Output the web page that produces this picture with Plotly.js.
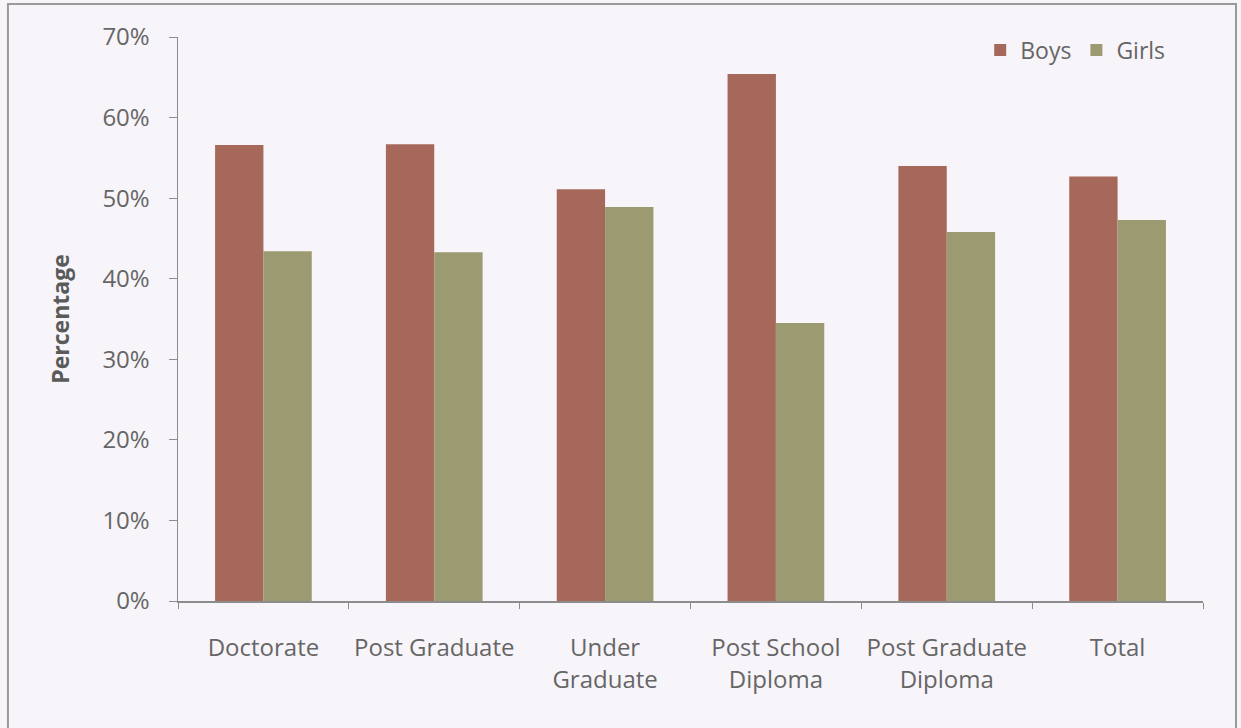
<!DOCTYPE html>
<html>
<head>
<meta charset="utf-8">
<script src="https://cdn.plot.ly/plotly-3.0.1.min.js"></script>
<style>
  html, body { margin: 0; padding: 0; background: #f8f5fa; }
  #chart { width: 1241px; height: 728px; }
</style>
</head>
<body>
<div id="chart"></div>
<script>
const categories = ["Doctorate", "Post Graduate", "Under<br>Graduate", "Post School<br>Diploma", "Post Graduate<br>Diploma", "Total"];
const boys = [56.6, 56.7, 51.1, 65.4, 54.0, 52.7];
const girls = [43.4, 43.3, 48.9, 34.5, 45.8, 47.3];
const yTicks = [0, 10, 20, 30, 40, 50, 60, 70];
const yTickLabels = ["0%", "10%", "20%", "30%", "40%", "50%", "60%", "70%"];

const textColor = "#666666";
const axisColor = "#8c8c8c";

const traces = [
  { type: "bar", name: "Boys", x: categories, y: boys, marker: { color: "#a6685b" }, hoverinfo: "x+y+name" },
  { type: "bar", name: "Girls", x: categories, y: girls, marker: { color: "#9c9a70" }, hoverinfo: "x+y+name" }
];

const layout = {
  width: 1241,
  height: 728,
  paper_bgcolor: "#f8f5fa",
  plot_bgcolor: "#f8f5fa",
  font: { family: "Open Sans, sans-serif", size: 24, color: textColor },
  margin: { l: 178, r: 38, t: 37, b: 127 },
  barmode: "group",
  bargap: 0.434,
  bargroupgap: 0,
  showlegend: true,
  legend: {
    orientation: "h",
    x: 0.968, xanchor: "right",
    y: 0.977, yanchor: "middle",
    bgcolor: "rgba(0,0,0,0)",
    font: { size: 23, color: textColor },
    itemwidth: 30,
    tracegroupgap: 0
  },
  xaxis: {
    showline: true, linecolor: axisColor, linewidth: 1.5,
    ticks: "outside", tickson: "boundaries", ticklen: 6, tickcolor: axisColor,
    ticklabelstandoff: 25,
    tickfont: { size: 24, color: textColor },
    showgrid: false, zeroline: false, fixedrange: true
  },
  yaxis: {
    range: [0, 70],
    tickmode: "array",
    tickvals: yTicks,
    ticktext: yTickLabels,
    showline: true, linecolor: axisColor, linewidth: 1.5,
    ticks: "outside", ticklen: 8, tickcolor: axisColor,
    ticklabelstandoff: 14,
    tickfont: { size: 24, color: textColor },
    showgrid: false, zeroline: false, fixedrange: true,
    title: { text: "<b>Percentage</b>", font: { size: 23, color: "#5a5a5a" }, standoff: 26 }
  },
  shapes: [
    { type: "rect", xref: "paper", yref: "paper", x0: -0.1659, x1: 1.0322, y0: -0.3, y1: 1.0585,
      line: { color: "#9a9a9a", width: 2 }, fillcolor: "rgba(0,0,0,0)", layer: "below" }
  ]
};

Plotly.newPlot("chart", traces, layout, { displayModeBar: false, staticPlot: true });
</script>
</body>
</html>
